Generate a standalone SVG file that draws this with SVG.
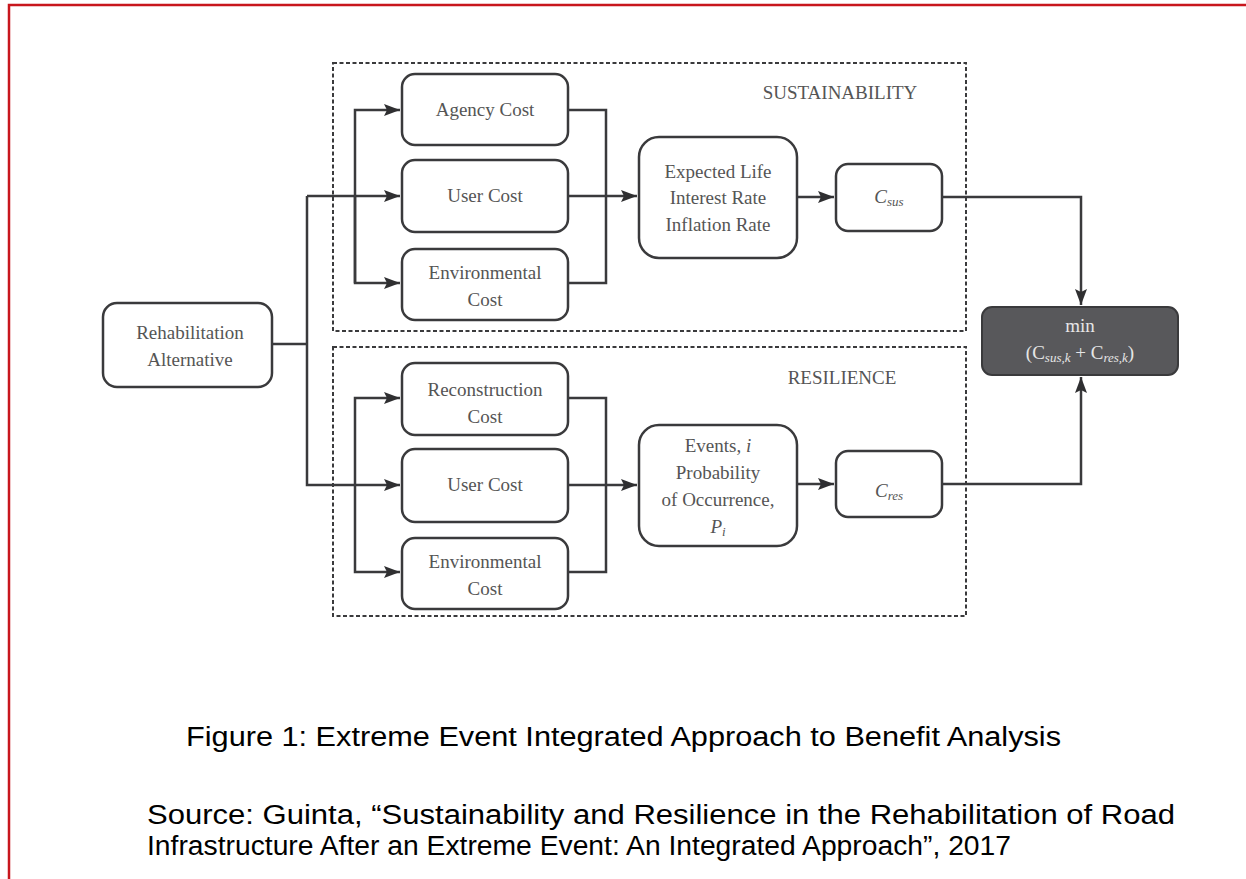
<svg xmlns="http://www.w3.org/2000/svg" width="1246" height="879" viewBox="0 0 1246 879">
<style>
.box{fill:#fff;stroke:#3a3a3c;stroke-width:2.5}
.grp{fill:none;stroke:#3a3a3c;stroke-width:2;stroke-dasharray:4 2.5}
.t{font-family:"Liberation Serif",serif;font-size:19px;fill:#555;text-anchor:middle}
.h{font-family:"Liberation Serif",serif;font-size:19px;fill:#555;text-anchor:middle}
.c{fill:none;stroke:#3a3a3c;stroke-width:2.5}
.cap{font-family:"Liberation Sans",Arial,sans-serif;font-size:27px;fill:#000}
</style>
<defs>
<marker id="ah" viewBox="0 0 16 12" refX="16" refY="6" markerWidth="16" markerHeight="12" markerUnits="userSpaceOnUse" orient="auto">
<path d="M0,0 L16,6 L0,12 L3,6 z" fill="#2f2f31"/>
</marker>
</defs>
<rect width="1246" height="879" fill="#fff"/>
<path d="M1246,5 H9 V879" fill="none" stroke="#c8161d" stroke-width="2.5"/>

<g id="group-sustainability">
<rect class="grp" x="333" y="63" width="633" height="268"/>
<text class="h" x="840" y="99">SUSTAINABILITY</text>
</g>
<g id="group-resilience">
<rect class="grp" x="333" y="347" width="633" height="269"/>
<text class="h" x="842" y="384">RESILIENCE</text>
</g>

<g id="connectors">
<path class="c" d="M272,344 H307"/>
<path class="c" d="M307,196 V485 H400" marker-end="url(#ah)"/>
<path class="c" d="M307,196 H400" marker-end="url(#ah)"/>
<path class="c" d="M355,283 V110 H400" marker-end="url(#ah)"/>
<path class="c" d="M355,196 V283 H400" marker-end="url(#ah)"/>
<path class="c" d="M568,110 H606 V283 H568"/>
<path class="c" d="M568,196 H637" marker-end="url(#ah)"/>
<path class="c" d="M797,197 H834" marker-end="url(#ah)"/>
<path class="c" d="M942,197 H1081 V305" marker-end="url(#ah)"/>
<path class="c" d="M355,485 V398 H400" marker-end="url(#ah)"/>
<path class="c" d="M355,485 V572 H400" marker-end="url(#ah)"/>
<path class="c" d="M568,398 H606 V572 H568"/>
<path class="c" d="M568,485 H637" marker-end="url(#ah)"/>
<path class="c" d="M797,484 H834" marker-end="url(#ah)"/>
<path class="c" d="M942,484 H1081 V377" marker-end="url(#ah)"/>
</g>

<g id="node-rehab">
<rect class="box" x="103" y="303" width="169" height="84" rx="14"/>
<text class="t" x="190" y="339">Rehabilitation</text>
<text class="t" x="190" y="366">Alternative</text>
</g>
<g id="node-agency">
<rect class="box" x="402" y="74" width="166" height="71" rx="13"/>
<text class="t" x="485" y="116">Agency Cost</text>
</g>
<g id="node-user1">
<rect class="box" x="402" y="160" width="166" height="72" rx="13"/>
<text class="t" x="485" y="202">User Cost</text>
</g>
<g id="node-env1">
<rect class="box" x="402" y="249" width="166" height="71" rx="13"/>
<text class="t" x="485" y="279">Environmental</text>
<text class="t" x="485" y="306">Cost</text>
</g>
<g id="node-expected">
<rect class="box" x="639" y="137" width="158" height="121" rx="20"/>
<text class="t" x="718" y="178">Expected Life</text>
<text class="t" x="718" y="204">Interest Rate</text>
<text class="t" x="718" y="231">Inflation Rate</text>
</g>
<g id="node-csus">
<rect class="box" x="836" y="164" width="106" height="67" rx="12"/>
<text class="t" x="889" y="203" font-style="italic">C<tspan font-size="13" dy="3">sus</tspan></text>
</g>
<g id="node-recon">
<rect class="box" x="402" y="363" width="166" height="72" rx="13"/>
<text class="t" x="485" y="396">Reconstruction</text>
<text class="t" x="485" y="423">Cost</text>
</g>
<g id="node-user2">
<rect class="box" x="402" y="449" width="166" height="73" rx="13"/>
<text class="t" x="485" y="491">User Cost</text>
</g>
<g id="node-env2">
<rect class="box" x="402" y="538" width="166" height="71" rx="13"/>
<text class="t" x="485" y="568">Environmental</text>
<text class="t" x="485" y="595">Cost</text>
</g>
<g id="node-events">
<rect class="box" x="639" y="425" width="158" height="121" rx="20"/>
<text class="t" x="718" y="452">Events, <tspan font-style="italic">i</tspan></text>
<text class="t" x="718" y="479">Probability</text>
<text class="t" x="718" y="506">of Occurrence,</text>
<text class="t" x="718" y="533" font-style="italic">P<tspan font-size="13" dy="3">i</tspan></text>
</g>
<g id="node-cres">
<rect class="box" x="836" y="451" width="106" height="66" rx="12"/>
<text class="t" x="889" y="497" font-style="italic">C<tspan font-size="13" dy="3">res</tspan></text>
</g>
<g id="node-min">
<rect x="982" y="307" width="196" height="68" rx="10" fill="#58585b" stroke="#3a3a3c" stroke-width="2"/>
<text class="t" x="1080" y="332" style="fill:#e6e6e6">min</text>
<text class="t" x="1080" y="359" style="fill:#e6e6e6">(C<tspan font-size="13" dy="3" font-style="italic">sus,k</tspan><tspan dy="-3"> + C</tspan><tspan font-size="13" dy="3" font-style="italic">res,k</tspan><tspan dy="-3">)</tspan></text>
</g>

<g id="caption">
<text class="cap" x="186" y="746" textLength="875" lengthAdjust="spacingAndGlyphs">Figure 1: Extreme Event Integrated Approach to Benefit Analysis</text>
<text class="cap" x="147" y="824" textLength="1028" lengthAdjust="spacingAndGlyphs">Source: Guinta, “Sustainability and Resilience in the Rehabilitation of Road</text>
<text class="cap" x="147" y="855" textLength="864" lengthAdjust="spacingAndGlyphs">Infrastructure After an Extreme Event: An Integrated Approach”, 2017</text>
</g>
</svg>
